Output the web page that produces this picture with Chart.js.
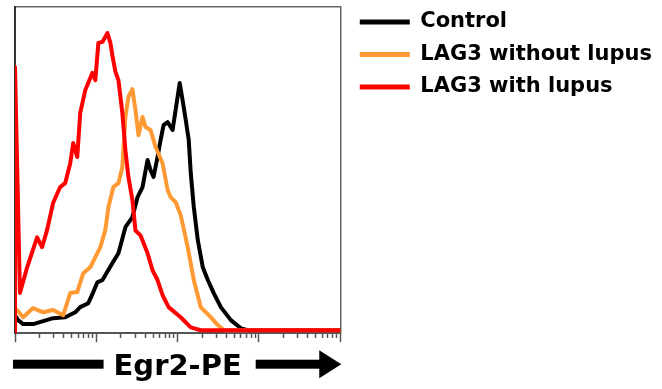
<!DOCTYPE html>
<html><head><meta charset="utf-8">
<script src="https://cdn.jsdelivr.net/npm/chart.js@4/dist/chart.umd.min.js"></script>
<style>html,body{margin:0;padding:0;background:#fff}</style>
</head><body>
<canvas id="c" width="662" height="389"></canvas>
<script>
const seriesNames = ['Control', 'LAG3 without lupus', 'LAG3 with lupus'];
const seriesColors = ['#000000', '#FF9933', '#FF0000'];
const xAxisTitle = 'Egr2-PE';
const xMin = 10, xMax = 100000;

const controlX = [10, 10.9, 12.6, 16.7, 22.2, 29.4, 41.4, 55.0, 63.4, 79.6, 91.8, 103, 119, 158, 187, 228, 278, 321, 370, 427, 464, 506, 566, 617, 672, 753, 867, 944, 1060, 1150, 1260, 1370, 1450, 1580, 1770, 2040, 2350, 2780, 3400, 4510, 6000, 7310, 100000];
const controlY = [5.5, 4.0, 2.8, 2.8, 3.7, 4.6, 4.9, 6.4, 8.0, 9.2, 12.6, 15.6, 16.3, 21.5, 24.5, 32.5, 35.6, 41.7, 44.8, 53.1, 50.0, 47.9, 54.0, 59.2, 63.8, 64.7, 62.3, 68.4, 76.7, 71.5, 65.3, 59.2, 49.1, 38.7, 28.5, 20.2, 16.3, 12.3, 8.0, 4.0, 1.5, 0.9, 0.9];

const withoutX = [10, 10.6, 12.6, 16.7, 22.2, 29.4, 39.1, 47.8, 58.3, 69.1, 84.3, 112, 129, 141, 162, 187, 209, 228, 248, 278, 303, 330, 370, 403, 464, 535, 653, 753, 820, 944, 1090, 1330, 1580, 1920, 2550, 3120, 3700, 100000];
const withoutY = [7.0, 7.1, 4.9, 7.7, 6.4, 7.1, 5.5, 12.3, 12.6, 18.4, 20.2, 26.4, 31.6, 38.7, 44.8, 46.0, 50.9, 66.3, 72.4, 74.8, 68.4, 60.7, 66.3, 63.2, 62.3, 57.1, 52.1, 43.9, 41.7, 40.2, 36.2, 26.4, 16.3, 8.0, 4.9, 2.5, 0.9, 0.9];

const withX = [10, 10, 11.5, 14.1, 18.7, 21.5, 24.8, 29.4, 35.9, 41.4, 47.8, 52.0, 58.3, 63.4, 73.1, 89.3, 97.2, 106, 119, 137, 149, 158, 172, 187, 209, 228, 248, 278, 303, 349, 427, 491, 566, 653, 774, 1090, 1450, 1920, 100000];
const withY = [0, 81.6, 12.3, 20.2, 29.4, 26.4, 31.6, 39.9, 44.8, 46.0, 52.1, 58.3, 54.0, 67.5, 74.5, 79.8, 77.6, 89.0, 89.3, 92.0, 89.0, 85.0, 80.1, 77.6, 67.5, 56.1, 47.9, 40.8, 31.5, 30.0, 24.5, 19.3, 16.3, 11.7, 8.0, 4.9, 1.8, 0.9, 0.9];

const toPoints = (xs, ys) => xs.map((x, i) => ({x: x, y: ys[i]}));
const isDecade = (v) => { const e = Math.log10(v); return Math.abs(e - Math.round(e)) < 1e-6; };
const isLogStep = (v) => { const m = v / Math.pow(10, Math.floor(Math.log10(v) + 1e-9)); return Math.abs(m - Math.round(m)) < 1e-6; };

const arrowPlugin = {
  id: 'axisArrows',
  afterDraw(chart) {
    const ctx = chart.ctx, a = chart.chartArea, xs = chart.scales.x;
    ctx.save();
    ctx.font = 'bold 29px "DejaVu Sans"';
    const w = ctx.measureText(xAxisTitle).width;
    const cx = (xs.left + xs.right) / 2;
    const cy = a.bottom + 31;
    ctx.fillStyle = '#000';
    const l0 = a.left - 2, l1 = cx - w / 2 - 10;
    ctx.fillRect(l0, cy - 4.5, l1 - l0, 9);
    const r0 = cx + w / 2 + 14, tip = a.right + 1;
    ctx.fillRect(r0, cy - 4.5, tip - 20 - r0, 9);
    ctx.beginPath();
    ctx.moveTo(tip - 22, cy - 14);
    ctx.lineTo(tip, cy);
    ctx.lineTo(tip - 22, cy + 14);
    ctx.closePath();
    ctx.fill();
    ctx.restore();
  }
};

const lineDs = (label, pts, color, order) => ({
  label: label, data: pts, borderColor: color, backgroundColor: color,
  borderWidth: 4, pointRadius: 0, tension: 0, fill: false, order: order,
  borderJoinStyle: 'round', borderCapStyle: 'round'
});

new Chart(document.getElementById('c'), {
  type: 'line',
  data: {
    datasets: [
      lineDs(seriesNames[0], toPoints(controlX, controlY), seriesColors[0], 2),
      lineDs(seriesNames[1], toPoints(withoutX, withoutY), seriesColors[1], 1),
      lineDs(seriesNames[2], toPoints(withX, withY), seriesColors[2], 0)
    ]
  },
  options: {
    responsive: false,
    animation: false,
    devicePixelRatio: 1,
    layout: { padding: { left: 15, top: 0, right: 0, bottom: 0 } },
    plugins: {
      tooltip: { enabled: false },
      legend: {
        position: 'right',
        align: 'start',
        maxWidth: 400,
        labels: {
          boxWidth: 50,
          boxHeight: 5,
          padding: 11.5,
          color: '#000',
          font: { family: 'DejaVu Sans', weight: 'bold', size: 21 },
          generateLabels: () => seriesNames.map((n, i) => ({
            text: n, fillStyle: seriesColors[i], strokeStyle: seriesColors[i],
            lineWidth: 0, hidden: false, datasetIndex: i, fontColor: '#000'
          }))
        }
      }
    },
    scales: {
      x: {
        type: 'logarithmic', position: 'bottom', min: xMin, max: xMax,
        afterBuildTicks: (axis) => { axis.ticks = axis.ticks.filter(t => isLogStep(t.value)); },
        ticks: { display: false },
        grid: {
          display: true, drawOnChartArea: false, drawTicks: true, tickLength: 9,
          tickColor: '#555', tickWidth: 1.5,
          tickBorderDash: (c) => (c.tick && isDecade(c.tick.value)) ? [] : [4, 40]
        },
        border: { display: true, color: '#555', width: 2 },
        title: {
          display: true, text: xAxisTitle, color: '#000',
          font: { family: 'DejaVu Sans', weight: 'bold', size: 29 },
          padding: { top: 8, bottom: 4 }
        }
      },
      xTop: {
        type: 'logarithmic', position: 'top', min: xMin, max: xMax,
        ticks: { display: false },
        grid: { display: true, drawOnChartArea: false, drawTicks: true, tickLength: 7, tickColor: 'rgba(0,0,0,0)' },
        border: { display: true, color: '#666', width: 1.5 }
      },
      y: {
        min: 0, max: 100,
        ticks: { display: false },
        grid: { display: false, drawTicks: false },
        border: { display: true, color: '#333', width: 2 }
      },
      yRight: {
        position: 'right', min: 0, max: 100,
        ticks: { display: false },
        grid: { display: true, drawOnChartArea: false, drawTicks: true, tickLength: 8, tickColor: 'rgba(0,0,0,0)' },
        border: { display: true, color: '#666', width: 1.5 }
      }
    }
  },
  plugins: [arrowPlugin]
});
</script>
</body></html>
